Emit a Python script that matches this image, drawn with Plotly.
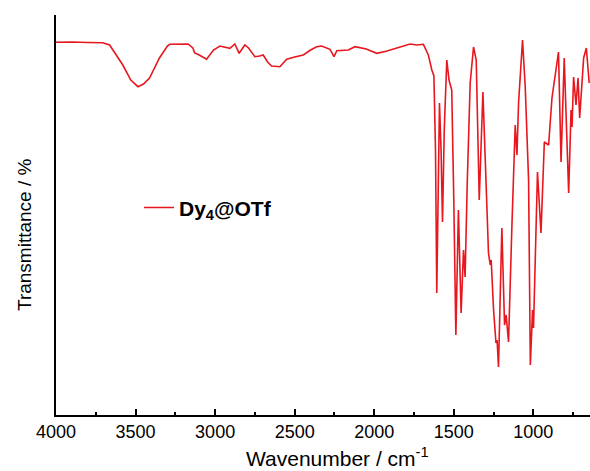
import plotly.graph_objects as go

wavenumber = [4000, 3900, 3800, 3707, 3663, 3580, 3530, 3485, 3450, 3412, 3350, 3300, 3285,
              3170, 3140, 3128, 3100, 3054, 3010, 2970, 2907, 2876, 2849, 2813, 2790, 2771,
              2750, 2720, 2698, 2670, 2645, 2593, 2550, 2500, 2446, 2400, 2362, 2331, 2278,
              2253, 2235, 2163, 2121, 2050, 1984, 1920, 1858, 1775, 1733, 1691, 1660, 1649,
              1638, 1625, 1615, 1607, 1598, 1590, 1580, 1571, 1560, 1544, 1530, 1523, 1513,
              1500, 1487, 1471, 1454, 1439, 1429, 1415, 1397, 1376, 1359, 1340, 1317, 1300,
              1282, 1271, 1265, 1250, 1235, 1228, 1219, 1198, 1181, 1171, 1156, 1135, 1114,
              1103, 1093, 1068, 1051, 1030, 1019, 1005, 999, 974, 952, 931, 904, 883, 842,
              826, 806, 778, 763, 757, 747, 732, 719, 709, 694, 684, 667, 649]

transmittance = [370.7, 371, 370.5, 370.3, 368, 348, 333, 326.3, 329, 335, 355, 367, 368.7,
                 369, 365, 360, 358, 353.7, 363, 367, 364.7, 369, 359.7, 368, 365, 361.3,
                 356.3, 357, 358, 351, 347, 346.3, 353.7, 356, 358, 363, 366.3, 367, 363.7,
                 356.3, 362.3, 363, 366.3, 364, 359.7, 362, 364.7, 369, 368, 368.7, 358, 349.7,
                 343, 337, 263, 120, 233, 310, 263, 191, 283, 353, 333, 328, 323,
                 213, 78, 203, 100, 163, 136, 233, 330, 366, 353, 213, 321, 243,
                 160, 148, 153, 103, 70, 73, 46, 185, 88, 98, 71, 186, 288,
                 258, 310, 373, 326, 233, 48, 103, 85, 241, 180, 271, 268, 315, 361,
                 251, 355, 220, 303, 286, 336, 308, 335, 295, 333, 355, 365, 330]

x_ticks = [4000, 3500, 3000, 2500, 2000, 1500, 1000]

fig = go.Figure()
fig.add_trace(go.Scatter(
    x=wavenumber, y=transmittance, mode="lines",
    line=dict(color="#e8161e", width=1.6),
    name="<b>Dy<sub>4</sub>@OTf</b>",
))

fig.update_layout(
    width=590, height=471,
    margin=dict(l=56, r=0, t=15, b=56),
    paper_bgcolor="white", plot_bgcolor="white",
    font=dict(family="Arial, Liberation Sans, sans-serif", color="black", size=18),
    showlegend=True,
    legend=dict(x=(139 - 56) / 534, y=0.518, xanchor="left", yanchor="middle",
                bgcolor="rgba(0,0,0,0)", font=dict(size=21, color="black")),
    xaxis=dict(
        range=[4000, 644], showline=True, linecolor="black", linewidth=1.5,
        showgrid=False, zeroline=False,
        tickmode="array", tickvals=x_ticks, ticktext=[str(v) for v in x_ticks],
        ticks="inside", ticklen=6, tickwidth=1.5, tickcolor="black",
        minor=dict(dtick=250, ticks="inside", ticklen=3, tickwidth=1.5, tickcolor="black"),
        tickfont=dict(size=18),
    ),
    yaxis=dict(
        range=[-2, 398], showline=True, linecolor="black", linewidth=1.5,
        showgrid=False, zeroline=False, showticklabels=False, ticks="",
    ),
    annotations=[
        dict(text="Transmittance / %", textangle=-90, showarrow=False,
             xref="paper", yref="paper", x=(24 - 56) / 534, y=(415 - 235) / 400,
             xanchor="center", yanchor="middle", font=dict(size=19)),
        dict(text="Wavenumber / cm<sup>-1</sup>", showarrow=False,
             xref="paper", yref="paper", x=(337 - 56) / 534, y=(415 - 457) / 400,
             xanchor="center", yanchor="middle", font=dict(size=21)),
    ],
)

fig.write_html("out.html")
